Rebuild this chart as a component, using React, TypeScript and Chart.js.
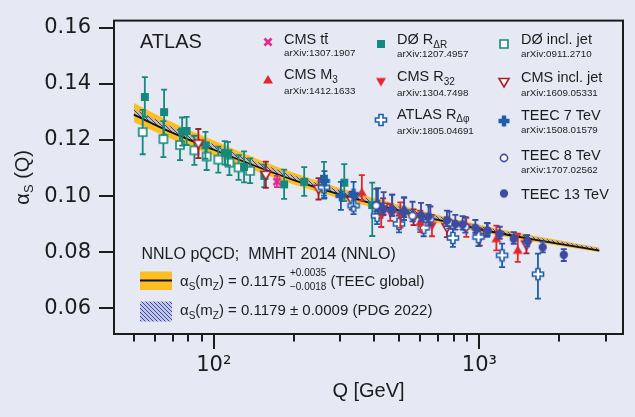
import React, { useEffect, useRef } from 'react';
import { Chart, registerables } from 'chart.js';

Chart.register(...registerables);

const BG = '#e6e9f4';
const INK = '#1c1c1c';
const SANS = '"Liberation Sans", Arial, sans-serif';
const MATH = '"DejaVu Sans", sans-serif';
const YELLOW = '#fcbf22';
const TEAL = '#15897e';
const RED = '#e3262a';
const DKRED = '#a41e2c';
const PINK = '#e02a8c';
const BLUE = '#1d5ea9';
const NAVY = '#3b4ca2';

// axes
const X_MIN = 42.1;
const X_MAX = 3474;
const Y_MIN = 0.0509;
const Y_MAX = 0.1625;
const X_MAJOR = [100, 1000];
const X_TICKS = [50, 60, 70, 80, 90, 100, 200, 300, 400, 500, 600, 700, 800, 900, 1000, 2000, 3000];
const Y_TICKS = [0.06, 0.08, 0.1, 0.12, 0.14, 0.16];

// theory bands
const BAND_Q = [50, 70, 100, 150, 200, 300, 500, 700, 1000, 1500, 2000, 2830];
const TEEC_CENTRAL = [0.129, 0.1225, 0.1165, 0.11, 0.1057, 0.1005, 0.0948, 0.0915, 0.0882, 0.085, 0.083, 0.0806];
const TEEC_UP = [0.1332, 0.1262, 0.1198, 0.1128, 0.1083, 0.1028, 0.0968, 0.0933, 0.0898, 0.0864, 0.0843, 0.0817];
const TEEC_DOWN = [0.1263, 0.1202, 0.1145, 0.1083, 0.1041, 0.0991, 0.0936, 0.0904, 0.0873, 0.0842, 0.0823, 0.08];
const PDG_UP = [0.1311, 0.1245, 0.1184, 0.1117, 0.1073, 0.102, 0.0962, 0.0928, 0.0894, 0.086, 0.0839, 0.0814];
const PDG_DOWN = [0.1288, 0.1224, 0.1165, 0.11, 0.1057, 0.1005, 0.0949, 0.0916, 0.0883, 0.0851, 0.0831, 0.0807];

// D0 R_dR
const D0RDR_Q = [55, 65, 76, 79, 93, 110, 113, 130, 155, 184, 219, 260, 310, 395];
const D0RDR_A = [0.1353, 0.1299, 0.123, 0.1232, 0.1181, 0.1154, 0.1151, 0.1104, 0.1072, 0.1042, 0.1051, 0.1062, 0.1048, 0.0968];
const D0RDR_UP = [0.0071, 0.008, 0.005, 0.005, 0.0048, 0.0042, 0.0042, 0.0055, 0.004, 0.0052, 0.0052, 0.006, 0.0066, 0.008];
const D0RDR_DN = [0.0071, 0.008, 0.005, 0.005, 0.0048, 0.0042, 0.0042, 0.0055, 0.004, 0.0052, 0.005, 0.006, 0.0066, 0.011];

// D0 inclusive jet
const D0INC_Q = [54, 64.6, 74.6, 84.5, 94, 104, 114.5, 124, 137];
const D0INC_A = [0.1228, 0.1203, 0.1182, 0.1163, 0.1141, 0.113, 0.1119, 0.1102, 0.109];
const D0INC_E = [0.0079, 0.0064, 0.0054, 0.0052, 0.0048, 0.0046, 0.0044, 0.0044, 0.0044];

// CMS ttbar
const TT_Q = [173];
const TT_A = [0.1052];
const TT_E = [0.002];

// CMS inclusive jet
const CMSINC_Q = [87.5, 157, 248, 331, 434, 565, 755, 1003, 1504];
const CMSINC_A = [0.1187, 0.1076, 0.1026, 0.0984, 0.0962, 0.0925, 0.0889, 0.0854, 0.0828];
const CMSINC_E = [0.0052, 0.0047, 0.0038, 0.0032, 0.003, 0.0028, 0.0035, 0.003, 0.0032];

// CMS M3
const M3_Q = [361, 599, 1159, 1395];
const M3_A = [0.1013, 0.0907, 0.0848, 0.0807];
const M3_UP = [0.0062, 0.0041, 0.0047, 0.0059];
const M3_DN = [0.0029, 0.0035, 0.0041, 0.0041];

// CMS R32
const R32_Q = [427, 462, 504, 663, 893];
const R32_A = [0.0931, 0.0942, 0.0933, 0.0895, 0.0889];
const R32_E = [0.0041, 0.003, 0.0045, 0.0038, 0.0034];

// ATLAS R_dphi
const RDPHI_Q = [260, 336, 412, 498, 617, 795, 992, 1218, 1662];
const RDPHI_A = [0.1031, 0.0966, 0.093, 0.0901, 0.0887, 0.0851, 0.0854, 0.0789, 0.0722];
const RDPHI_UP = [0.004, 0.003, 0.003, 0.003, 0.003, 0.0032, 0.0032, 0.0042, 0.0073];
const RDPHI_DN = [0.004, 0.003, 0.003, 0.003, 0.003, 0.0032, 0.0032, 0.0042, 0.0087];

// TEEC 7 TeV
const T7_Q = [261, 301, 336, 415, 520];
const T7_A = [0.1054, 0.1001, 0.1007, 0.0968, 0.0945];
const T7_UP = [0.0035, 0.005, 0.0044, 0.006, 0.005];
const T7_DN = [0.006, 0.005, 0.0044, 0.003, 0.003];

// TEEC 8 TeV
const T8_Q = [409, 470, 560, 654, 771, 886, 1068];
const T8_A = [0.0966, 0.095, 0.093, 0.0918, 0.0905, 0.089, 0.0875];
const T8_UP = [0.006, 0.0055, 0.005, 0.0045, 0.004, 0.0035, 0.003];
const T8_DN = [0.002, 0.002, 0.002, 0.002, 0.002, 0.002, 0.002];

// TEEC 13 TeV
const T13_Q = [436, 469, 521, 603, 644, 755, 812, 865, 966, 1075, 1193, 1347, 1513, 1732, 2079];
const T13_A = [0.0954, 0.095, 0.0945, 0.0931, 0.0927, 0.0913, 0.0901, 0.0899, 0.0887, 0.0877, 0.0866, 0.0848, 0.0839, 0.0818, 0.0791];
const T13_UP = [0.006, 0.0055, 0.005, 0.0045, 0.0042, 0.0035, 0.0032, 0.003, 0.0028, 0.0026, 0.0025, 0.0024, 0.0022, 0.002, 0.002];
const T13_DN = [0.002, 0.002, 0.002, 0.002, 0.002, 0.002, 0.002, 0.0018, 0.0018, 0.0018, 0.0018, 0.0018, 0.0018, 0.0018, 0.0022];

function pts(q: number[], a: number[]) {
  return q.map((x, i) => ({ x, y: a[i] }));
}

function marker(kind: string, color: string, open: boolean): HTMLCanvasElement {
  const c = document.createElement('canvas');
  const S = 16;
  c.width = S;
  c.height = S;
  const g = c.getContext('2d') as CanvasRenderingContext2D;
  g.translate(S / 2, S / 2);
  g.fillStyle = open ? '#ffffff' : color;
  g.strokeStyle = color;
  g.lineWidth = 1.6;
  g.beginPath();
  if (kind === 'x') {
    g.lineWidth = 2.8;
    g.moveTo(-3.5, -3.5);
    g.lineTo(3.5, 3.5);
    g.moveTo(3.5, -3.5);
    g.lineTo(-3.5, 3.5);
    g.stroke();
    return c;
  }
  if (kind === 'square') g.rect(-4, -4, 8, 8);
  if (kind === 'triUp') {
    g.moveTo(0, -5);
    g.lineTo(5, 3.5);
    g.lineTo(-5, 3.5);
    g.closePath();
  }
  if (kind === 'triDown') {
    g.moveTo(0, 5);
    g.lineTo(5, -3.5);
    g.lineTo(-5, -3.5);
    g.closePath();
  }
  if (kind === 'circle') g.arc(0, 0, open ? 3.6 : 4.2, 0, Math.PI * 2);
  if (kind === 'plus') {
    const a = 5.5;
    const b = open ? 2 : 2.2;
    const p = [[-b, -a], [b, -a], [b, -b], [a, -b], [a, b], [b, b], [b, a], [-b, a], [-b, b], [-a, b], [-a, -b], [-b, -b]];
    p.forEach(([x, y], i) => (i ? g.lineTo(x, y) : g.moveTo(x, y)));
    g.closePath();
  }
  g.fill();
  if (open) g.stroke();
  return c;
}

function makeHatch(ctx: CanvasRenderingContext2D) {
  const c = document.createElement('canvas');
  c.width = 4;
  c.height = 4;
  const g = c.getContext('2d') as CanvasRenderingContext2D;
  g.fillStyle = 'rgba(170,176,226,0.6)';
  g.fillRect(0, 0, 4, 4);
  g.strokeStyle = '#3a48a0';
  g.lineWidth = 1;
  g.beginPath();
  g.moveTo(0, 0);
  g.lineTo(4, 4);
  g.moveTo(-1, 3);
  g.lineTo(1, 5);
  g.moveTo(3, -1);
  g.lineTo(5, 1);
  g.stroke();
  return ctx.createPattern(c, 'repeat');
}

function rich(ctx: CanvasRenderingContext2D, x: number, y: number, parts: Array<[string, number, number]>) {
  let cx = x;
  for (const [t, size, dy] of parts) {
    ctx.font = `${size}px ${SANS}`;
    ctx.fillText(t, cx, y + dy);
    cx += ctx.measureText(t).width;
  }
  return cx;
}

const errorBars = {
  id: 'errorBars',
  beforeDatasetDraw(chart: any, args: any) {
    const ds = chart.data.datasets[args.index];
    if (!ds.errUp) return;
    const xs = chart.scales.x;
    const ys = chart.scales.y;
    const ctx = chart.ctx;
    ctx.save();
    ctx.strokeStyle = ds.errColor;
    ctx.lineWidth = 1.8;
    ds.data.forEach((p: any, i: number) => {
      const x = xs.getPixelForValue(p.x);
      const y1 = ys.getPixelForValue(p.y + ds.errUp[i]);
      const y2 = ys.getPixelForValue(p.y - ds.errDn[i]);
      ctx.beginPath();
      ctx.moveTo(x, y1);
      ctx.lineTo(x, y2);
      ctx.moveTo(x - 3, y1);
      ctx.lineTo(x + 3, y1);
      ctx.moveTo(x - 3, y2);
      ctx.lineTo(x + 3, y2);
      ctx.stroke();
    });
    ctx.restore();
  },
};

export default function App() {
  const ref = useRef<HTMLCanvasElement | null>(null);

  useEffect(() => {
    document.body.style.margin = '0';
    document.body.style.background = BG;
    const canvas = ref.current;
    if (!canvas) return;
    const ctx0 = canvas.getContext('2d') as CanvasRenderingContext2D;

    const M: Record<string, HTMLCanvasElement> = {
      tt: marker('x', PINK, false),
      m3: marker('triUp', RED, false),
      d0rdr: marker('square', TEAL, false),
      r32: marker('triDown', RED, false),
      rdphi: marker('plus', BLUE, true),
      d0inc: marker('square', TEAL, true),
      cmsinc: marker('triDown', DKRED, true),
      t7: marker('plus', BLUE, false),
      t8: marker('circle', NAVY, true),
      t13: marker('circle', NAVY, false),
    };
    const hatch = makeHatch(ctx0);

    const series = (label: string, q: number[], a: number[], up: number[], dn: number[], style: HTMLCanvasElement, color: string, order: number) => ({
      type: 'scatter',
      label,
      data: pts(q, a),
      errUp: up,
      errDn: dn,
      errColor: color,
      pointStyle: style,
      pointRadius: 5,
      showLine: false,
      order,
    });

    const bandLine = (a: number[], fill: any, bg: any, order: number, color = 'rgba(0,0,0,0)', width = 0) => ({
      type: 'line',
      data: pts(BAND_Q, a),
      borderColor: color,
      borderWidth: width,
      pointRadius: 0,
      fill,
      backgroundColor: bg,
      cubicInterpolationMode: 'monotone',
      order,
    });

    const decor = {
      id: 'decor',
      afterDraw(chart: any) {
        const ctx: CanvasRenderingContext2D = chart.ctx;
        const ca = chart.chartArea;
        const xs = chart.scales.x;
        const ys = chart.scales.y;
        ctx.save();
        // frame
        ctx.strokeStyle = INK;
        ctx.lineWidth = 2;
        ctx.strokeRect(ca.left, ca.top, ca.right - ca.left, ca.bottom - ca.top);
        // ticks
        ctx.beginPath();
        Y_TICKS.forEach((v) => {
          const y = Math.round(ys.getPixelForValue(v));
          ctx.moveTo(ca.left - 15, y);
          ctx.lineTo(ca.left, y);
        });
        X_TICKS.forEach((v) => {
          const x = Math.round(xs.getPixelForValue(v));
          const len = X_MAJOR.includes(v) ? 15 : 7.5;
          ctx.moveTo(x, ca.bottom);
          ctx.lineTo(x, ca.bottom + len);
        });
        ctx.stroke();

        ctx.fillStyle = INK;
        ctx.textAlign = 'left';
        ctx.textBaseline = 'alphabetic';

        // x title
        ctx.font = `20px ${SANS}`;
        const xt = 'Q [GeV]';
        const xw = ctx.measureText(xt).width;
        ctx.fillText(xt, (ca.left + ca.right) / 2 - xw / 2, 396.5);

        // y title
        ctx.save();
        ctx.translate(22, (ca.top + ca.bottom) / 2);
        ctx.rotate(-Math.PI / 2);
        ctx.font = `20px ${SANS}`;
        const wA = ctx.measureText('α').width;
        const wQ = ctx.measureText(' (Q)').width;
        ctx.font = `13px ${SANS}`;
        const wS = ctx.measureText('S').width;
        rich(ctx, -(wA + wS + wQ) / 2, 7, [['α', 20, 0], ['S', 13, 4], [' (Q)', 20, 0]]);
        ctx.restore();

        // ATLAS
        ctx.font = `20px ${SANS}`;
        ctx.fillText('ATLAS', 140, 48);

        // legend markers
        const mk = (m: HTMLCanvasElement, x: number, y: number) => ctx.drawImage(m, x - m.width / 2, y - m.height / 2);
        mk(M.tt, 268, 42);
        mk(M.m3, 268, 80);
        mk(M.d0rdr, 381, 44);
        mk(M.r32, 381, 81.5);
        mk(M.rdphi, 381, 120);
        mk(M.d0inc, 504, 44);
        mk(M.cmsinc, 504, 82);
        mk(M.t7, 504, 121);
        mk(M.t8, 504, 158);
        mk(M.t13, 504, 193.5);

        const T = 14.5;
        const s = 9.8;
        // col 1
        rich(ctx, 284, 44.2, [['CMS tt', T, 0]]);
        ctx.font = `${T}px ${SANS}`;
        const w1 = ctx.measureText('CMS t').width;
        const wt = ctx.measureText('t').width;
        ctx.lineWidth = 1;
        ctx.beginPath();
        ctx.moveTo(284 + w1 + 0.5, 33.5);
        ctx.lineTo(284 + w1 + wt - 0.5, 33.5);
        ctx.stroke();
        rich(ctx, 284, 56.4, [['arXiv:1307.1907', s, 0]]);
        rich(ctx, 284, 79.2, [['CMS M', T, 0], ['3', 10, 3.5]]);
        rich(ctx, 284, 93.9, [['arXiv:1412.1633', s, 0]]);
        // col 2
        rich(ctx, 397, 44.2, [['DØ R', T, 0], ['ΔR', 10, 3.5]]);
        rich(ctx, 397, 56.7, [['arXiv:1207.4957', s, 0]]);
        rich(ctx, 397, 81.2, [['CMS R', T, 0], ['32', 10, 3.5]]);
        rich(ctx, 397, 95.7, [['arXiv:1304.7498', s, 0]]);
        rich(ctx, 397, 118.7, [['ATLAS R', T, 0], ['Δφ', 10, 3.5]]);
        rich(ctx, 397, 133.9, [['arXiv:1805.04691', s, 0]]);
        // col 3
        rich(ctx, 521, 44.2, [['DØ incl. jet', T, 0]]);
        rich(ctx, 521, 56.7, [['arXiv:0911.2710', s, 0]]);
        rich(ctx, 521, 81.7, [['CMS incl. jet', T, 0]]);
        rich(ctx, 521, 95.7, [['arXiv:1609.05331', s, 0]]);
        rich(ctx, 521, 119.5, [['TEEC 7 TeV', T, 0]]);
        rich(ctx, 521, 133.4, [['arXiv:1508.01579', s, 0]]);
        rich(ctx, 521, 159.5, [['TEEC 8 TeV', T, 0]]);
        rich(ctx, 521, 173.4, [['arXiv:1707.02562', s, 0]]);
        rich(ctx, 521, 199.2, [['TEEC 13 TeV', T, 0]]);

        // lower legend
        rich(ctx, 141.5, 258.5, [['NNLO pQCD;  MMHT 2014 (NNLO)', 16, 0]]);
        ctx.fillStyle = YELLOW;
        ctx.fillRect(140, 271.5, 32, 18.5);
        ctx.strokeStyle = '#111';
        ctx.lineWidth = 2;
        ctx.beginPath();
        ctx.moveTo(140, 280.5);
        ctx.lineTo(172, 280.5);
        ctx.stroke();
        if (hatch) {
          ctx.fillStyle = hatch;
          ctx.fillRect(140, 301.5, 32, 20);
        }
        ctx.fillStyle = INK;
        const F = 15;
        let cx = rich(ctx, 180, 286, [['α', F, 0], ['S', 10, 3.5], ['(m', F, 0], ['Z', 10, 3.5], [') = 0.1175 ', F, 0]]);
        rich(ctx, cx, 276, [['+0.0035', 10, 0]]);
        rich(ctx, cx, 289.5, [['−0.0018', 10, 0]]);
        ctx.font = `10px ${SANS}`;
        cx += ctx.measureText('+0.0035').width + 4;
        rich(ctx, cx, 286, [['(TEEC global)', F, 0]]);
        rich(ctx, 180, 315.3, [['α', F, 0], ['S', 10, 3.5], ['(m', F, 0], ['Z', 10, 3.5], [') = 0.1179 ± 0.0009 (PDG 2022)', F, 0]]);
        ctx.restore();
      },
    };

    const chart = new Chart(canvas, {
      type: 'scatter',
      data: {
        datasets: [
          bandLine(TEEC_UP, false, 'rgba(0,0,0,0)', 30),
          bandLine(TEEC_DOWN, '-1', YELLOW, 30),
          bandLine(PDG_UP, false, 'rgba(0,0,0,0)', 29),
          bandLine(PDG_DOWN, '-1', hatch, 29),
          bandLine(TEEC_CENTRAL, false, 'rgba(0,0,0,0)', 28, '#111', 1.8),
          series('DØ R_ΔR', D0RDR_Q, D0RDR_A, D0RDR_UP, D0RDR_DN, M.d0rdr, TEAL, 10),
          series('DØ incl. jet', D0INC_Q, D0INC_A, D0INC_E, D0INC_E, M.d0inc, TEAL, 11),
          series('CMS tt̄', TT_Q, TT_A, TT_E, TT_E, M.tt, PINK, 8),
          series('CMS incl. jet', CMSINC_Q, CMSINC_A, CMSINC_E, CMSINC_E, M.cmsinc, DKRED, 7),
          series('ATLAS R_Δφ', RDPHI_Q, RDPHI_A, RDPHI_UP, RDPHI_DN, M.rdphi, BLUE, 6),
          series('CMS M3', M3_Q, M3_A, M3_UP, M3_DN, M.m3, RED, 5),
          series('CMS R32', R32_Q, R32_A, R32_E, R32_E, M.r32, RED, 4),
          series('TEEC 7 TeV', T7_Q, T7_A, T7_UP, T7_DN, M.t7, BLUE, 3),
          series('TEEC 8 TeV', T8_Q, T8_A, T8_UP, T8_DN, M.t8, NAVY, 2),
          series('TEEC 13 TeV', T13_Q, T13_A, T13_UP, T13_DN, M.t13, NAVY, 1),
        ] as any,
      },
      options: {
        responsive: false,
        animation: false,
        devicePixelRatio: 1,
        events: [],
        layout: { padding: { top: 19, right: 12, left: 0, bottom: 0 } },
        plugins: { legend: { display: false }, tooltip: { enabled: false }, title: { display: false } },
        scales: {
          x: {
            type: 'logarithmic',
            min: X_MIN,
            max: X_MAX,
            afterFit: (sc: any) => {
              sc.height = 83;
            },
            afterBuildTicks: (sc: any) => {
              sc.ticks = X_TICKS.map((v) => ({ value: v, major: X_MAJOR.includes(v) }));
            },
            grid: { drawOnChartArea: false, drawTicks: true, tickLength: 15, color: 'rgba(0,0,0,0)' },
            border: { display: false },
            ticks: {
              autoSkip: false,
              maxRotation: 0,
              minRotation: 0,
              padding: 4,
              color: INK,
              font: { family: MATH, size: 21 },
              callback: (v: any) => (Math.abs(v - 100) < 1e-6 ? '10²' : Math.abs(v - 1000) < 1e-6 ? '10³' : ''),
            },
          },
          y: {
            type: 'linear',
            min: Y_MIN,
            max: Y_MAX,
            afterFit: (sc: any) => {
              sc.width = 114;
            },
            afterBuildTicks: (sc: any) => {
              sc.ticks = Y_TICKS.map((v) => ({ value: v }));
            },
            grid: { drawOnChartArea: false, drawTicks: true, tickLength: 15, color: 'rgba(0,0,0,0)' },
            border: { display: false },
            ticks: {
              padding: 8,
              color: INK,
              font: { family: MATH, size: 21 },
              callback: (v: any) => Number(v).toFixed(2),
            },
          },
        },
      } as any,
      plugins: [errorBars, decor],
    });
    return () => chart.destroy();
  }, []);

  return (
    <div style={{ width: 635, height: 417, background: BG }}>
      <canvas ref={ref} width={635} height={417} style={{ display: 'block', width: 635, height: 417 }} />
    </div>
  );
}
